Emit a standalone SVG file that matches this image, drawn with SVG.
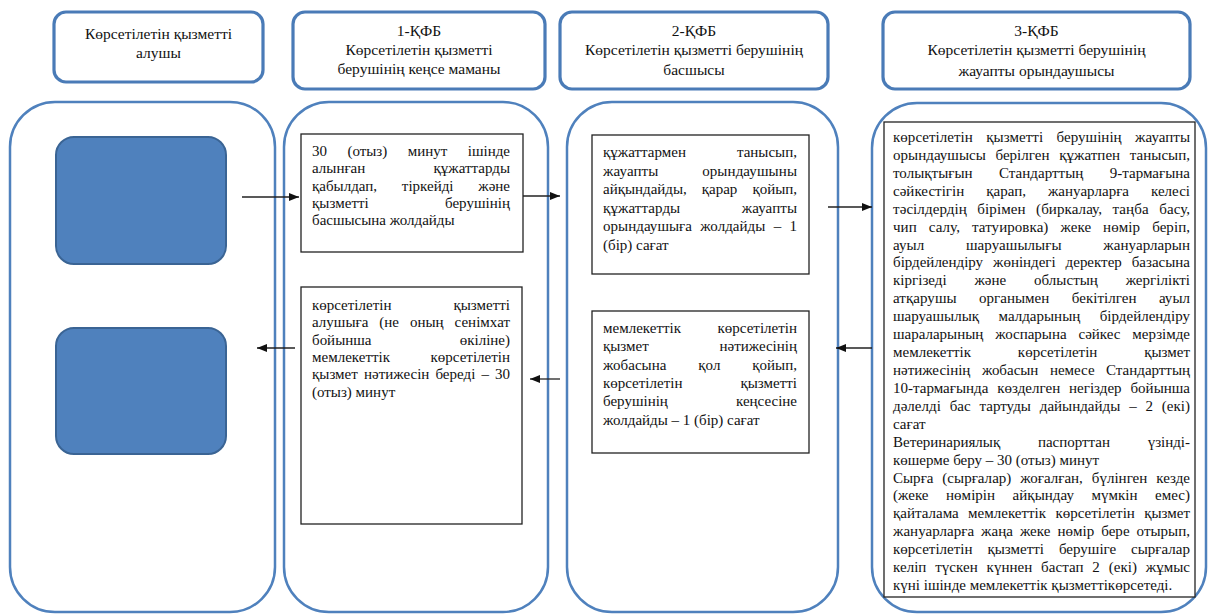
<svg xmlns="http://www.w3.org/2000/svg" width="1208" height="614" viewBox="0 0 1208 614" font-family="'Liberation Serif', 'DejaVu Serif', serif">
<style>
text{font-family:"Liberation Serif","DejaVu Serif",serif;font-size:15px;fill:#111}
.h text{font-size:15.5px;text-anchor:middle}
.hdr{fill:#fff;stroke:#4a7bb7;stroke-width:3.2}
.col{fill:#fff;stroke:#4f81bd;stroke-width:2.5}
.blue{fill:#4f81bd;stroke:#3a6494;stroke-width:2}
.box{fill:#fff;stroke:#222;stroke-width:1.3}
.c path{fill:none;stroke:#222;stroke-width:1.3;marker-end:url(#ah)}
</style>
<defs>
<marker id="ah" markerUnits="userSpaceOnUse" markerWidth="10" markerHeight="8" refX="10" refY="4" orient="auto">
<path d="M0,0 L10,4 L0,8 z" fill="#111"/>
</marker>
</defs>

<g id="header-1" class="h">
<rect class="hdr" x="54" y="12" width="209" height="70" rx="12"/>
<text x="158.5" y="39">Көрсетілетін қызметті</text>
<text x="158.5" y="58">алушы</text>
</g>
<g id="header-2" class="h">
<rect class="hdr" x="293" y="12" width="252" height="77" rx="12"/>
<text x="419" y="36">1-ҚФБ</text>
<text x="419" y="55">Көрсетілетін қызметті</text>
<text x="419" y="74">берушінің кеңсе маманы</text>
</g>
<g id="header-3" class="h">
<rect class="hdr" x="560" y="12" width="268" height="77" rx="12"/>
<text x="694" y="36">2-ҚФБ</text>
<text x="694" y="55">Көрсетілетін қызметті берушінің</text>
<text x="694" y="75">басшысы</text>
</g>
<g id="header-4" class="h">
<rect class="hdr" x="883" y="12" width="307" height="77" rx="12"/>
<text x="1036.5" y="36">3-ҚФБ</text>
<text x="1036.5" y="55">Көрсетілетін қызметті берушінің</text>
<text x="1036.5" y="76">жауапты орындаушысы</text>
</g>

<g id="lane-1">
<rect class="col" x="10" y="102" width="265" height="510" rx="45"/>
</g>
<g id="lane-2">
<rect class="col" x="284" y="102" width="264" height="510" rx="45"/>
</g>
<g id="lane-3">
<rect class="col" x="567" y="102" width="271" height="510" rx="45"/>
</g>
<g id="lane-4">
<rect class="col" x="872" y="103" width="334" height="509" rx="45"/>
</g>

<g id="recipient-start">
<rect class="blue" x="56" y="137" width="170" height="127" rx="18"/>
</g>
<g id="recipient-end">
<rect class="blue" x="56" y="328" width="170" height="126" rx="18"/>
</g>

<g id="step-1">
<rect class="box" x="301" y="134" width="222" height="118"/>
<text x="312" y="156" textLength="198" lengthAdjust="spacing" word-spacing="16.7">30 (отыз) минут ішінде</text>
<text x="312" y="173.3" textLength="198" lengthAdjust="spacing" word-spacing="64.5">алынған құжаттарды</text>
<text x="312" y="190.6" textLength="198" lengthAdjust="spacing" word-spacing="21">қабылдап, тіркейді және</text>
<text x="312" y="207.9" textLength="198" lengthAdjust="spacing" word-spacing="72.4">қызметті берушінің</text>
<text x="312" y="225.2">басшысына жолдайды</text>
</g>

<g id="step-2">
<rect class="box" x="592" y="135" width="217" height="139"/>
<text x="603" y="157" textLength="194" lengthAdjust="spacing" word-spacing="47.1">құжаттармен танысып,</text>
<text x="603" y="175.5" textLength="194" lengthAdjust="spacing" word-spacing="39.9">жауапты орындаушыны</text>
<text x="603" y="194" textLength="194" lengthAdjust="spacing" word-spacing="11.3">айқындайды, қарар қойып,</text>
<text x="603" y="212.5" textLength="194" lengthAdjust="spacing" word-spacing="57.7">құжаттарды жауапты</text>
<text x="603" y="231" textLength="194" lengthAdjust="spacing" word-spacing="4.5">орындаушыға жолдайды – 1</text>
<text x="603" y="249.5">(бір) сағат</text>
</g>

<g id="step-3">
<rect class="box" x="884" y="122" width="311" height="475"/>
<text x="893" y="142" textLength="297" lengthAdjust="spacing" word-spacing="9.6">көрсетілетін қызметті берушінің жауапты</text>
<text x="893" y="159.9" textLength="297" lengthAdjust="spacing" word-spacing="5.8">орындаушысы берілген құжатпен танысып,</text>
<text x="893" y="177.8" textLength="297" lengthAdjust="spacing" word-spacing="22.6">толықтығын Стандарттың 9-тармағына</text>
<text x="893" y="195.8" textLength="297" lengthAdjust="spacing" word-spacing="18.2">сәйкестігін қарап, жануарларға келесі</text>
<text x="893" y="213.7" textLength="297" lengthAdjust="spacing" word-spacing="6.7">тәсілдердің бірімен (биркалау, таңба басу,</text>
<text x="893" y="231.6" textLength="297" lengthAdjust="spacing" word-spacing="8.2">чип салу, татуировка) жеке нөмір беріп,</text>
<text x="893" y="249.5" textLength="297" lengthAdjust="spacing" word-spacing="38">ауыл шаруашылығы жануарларын</text>
<text x="893" y="267.4" textLength="297" lengthAdjust="spacing" word-spacing="6.2">бірдейлендіру жөніндегі деректер базасына</text>
<text x="893" y="285.4" textLength="297" lengthAdjust="spacing" word-spacing="24">кіргізеді және облыстың жергілікті</text>
<text x="893" y="303.3" textLength="297" lengthAdjust="spacing" word-spacing="18.5">атқарушы органымен бекітілген ауыл</text>
<text x="893" y="321.2" textLength="297" lengthAdjust="spacing" word-spacing="15.7">шаруашылық малдарының бірдейлендіру</text>
<text x="893" y="339.1" textLength="297" lengthAdjust="spacing" word-spacing="8.2">шараларының жоспарына сәйкес мерзімде</text>
<text x="893" y="357" textLength="297" lengthAdjust="spacing" word-spacing="43">мемлекеттік көрсетілетін қызмет</text>
<text x="893" y="375" textLength="297" lengthAdjust="spacing" word-spacing="7.8">нәтижесінің жобасын немесе Стандарттың</text>
<text x="893" y="392.9" textLength="297" lengthAdjust="spacing" word-spacing="5.1">10-тармағында көзделген негіздер бойынша</text>
<text x="893" y="410.8" textLength="297" lengthAdjust="spacing" word-spacing="5.1">дәлелді бас тартуды дайындайды – 2 (екі)</text>
<text x="893" y="428.7">сағат</text>
<text x="893" y="446.6" textLength="297" lengthAdjust="spacing" word-spacing="34">Ветеринариялық паспорттан үзінді-</text>
<text x="893" y="464.6">көшерме беру – 30 (отыз) минут</text>
<text x="893" y="482.5" textLength="297" lengthAdjust="spacing" word-spacing="5.1">Сырға (сырғалар) жоғалған, бүлінген кезде</text>
<text x="893" y="500.4" textLength="297" lengthAdjust="spacing" word-spacing="13.7">(жеке нөмірін айқындау мүмкін емес)</text>
<text x="893" y="518.3" textLength="297" lengthAdjust="spacing" word-spacing="5.6">қайталама мемлекеттік көрсетілетін қызмет</text>
<text x="893" y="536.2" textLength="297" lengthAdjust="spacing" word-spacing="3.2">жануарларға жаңа жеке нөмір бере отырып,</text>
<text x="893" y="554.2" textLength="297" lengthAdjust="spacing" word-spacing="11.1">көрсетілетін қызметті берушіге сырғалар</text>
<text x="893" y="572.1" textLength="297" lengthAdjust="spacing" word-spacing="5.1">келіп түскен күннен бастап 2 (екі) жұмыс</text>
<text x="893" y="590">күні ішінде мемлекеттік қызметтікөрсетеді.</text>
</g>

<g id="step-4">
<rect class="box" x="592" y="311" width="217" height="142"/>
<text x="603" y="333" textLength="194" lengthAdjust="spacing" word-spacing="32.7">мемлекеттік көрсетілетін</text>
<text x="603" y="351.3" textLength="194" lengthAdjust="spacing" word-spacing="66.9">қызмет нәтижесінің</text>
<text x="603" y="369.6" textLength="194" lengthAdjust="spacing" word-spacing="28">жобасына қол қойып,</text>
<text x="603" y="387.9" textLength="194" lengthAdjust="spacing" word-spacing="54.3">көрсетілетін қызметті</text>
<text x="603" y="406.2" textLength="194" lengthAdjust="spacing" word-spacing="64.3">берушінің кеңсесіне</text>
<text x="603" y="424.5">жолдайды – 1 (бір) сағат</text>
</g>

<g id="step-5">
<rect class="box" x="301" y="287" width="221" height="237"/>
<text x="312" y="310" textLength="198" lengthAdjust="spacing" word-spacing="58.3">көрсетілетін қызметті</text>
<text x="312" y="327.3" textLength="198" lengthAdjust="spacing" word-spacing="7.2">алушыға (не оның сенімхат</text>
<text x="312" y="344.6" textLength="198" lengthAdjust="spacing" word-spacing="84.6">бойынша өкіліне)</text>
<text x="312" y="361.9" textLength="198" lengthAdjust="spacing" word-spacing="36.7">мемлекеттік көрсетілетін</text>
<text x="312" y="379.2" textLength="198" lengthAdjust="spacing" word-spacing="2.3">қызмет нәтижесін береді – 30</text>
<text x="312" y="396.5">(отыз) минут</text>
</g>

<g id="connectors" class="c">
<path d="M242,197 H299"/>
<path d="M523,196 H560"/>
<path d="M828,207 H872"/>
<path d="M872,348 H836"/>
<path d="M560,379 H530"/>
<path d="M295,348 H257"/>
</g>
</svg>
